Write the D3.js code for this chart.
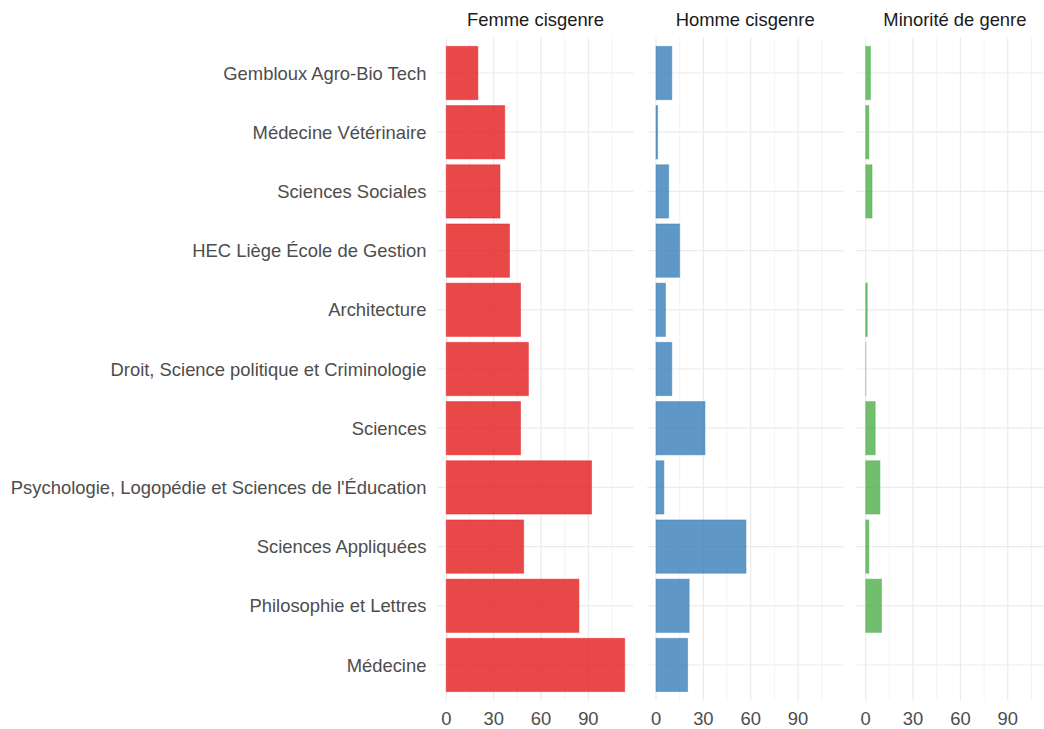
<!DOCTYPE html>
<html>
<head>
<meta charset="utf-8">
<script src="https://cdn.jsdelivr.net/npm/d3@7"></script>
<style>
  html, body { margin: 0; padding: 0; background: #ffffff; }
  svg { display: block; font-family: "Liberation Sans", Arial, sans-serif; }
</style>
</head>
<body>
<svg id="chart" width="1044" height="729"></svg>
<script>
// ---- Data ----
const categories = [
  "Gembloux Agro-Bio Tech",
  "Médecine Vétérinaire",
  "Sciences Sociales",
  "HEC Liège École de Gestion",
  "Architecture",
  "Droit, Science politique et Criminologie",
  "Sciences",
  "Psychologie, Logopédie et Sciences de l'Éducation",
  "Sciences Appliquées",
  "Philosophie et Lettres",
  "Médecine"
];
const panels = ["Femme cisgenre", "Homme cisgenre", "Minorité de genre"];
const femmeValues   = [20, 37, 34, 40, 47, 52, 47, 92, 49, 84, 113];
const hommeValues   = [10, 1, 8, 15, 6, 10, 31, 5, 57, 21, 20];
const minoriteValues = [3, 2, 4, null, 1, 0, 6, 9, 2, 10, null];
const majorTicks = [0, 30, 60, 90];
const minorTicks = [15, 45, 75, 105];
const panelColors = ["#E41A1C", "#377EB8", "#4DAF4A"];

const seriesValues = [femmeValues, hommeValues, minoriteValues];

// ---- Layout ----
const svg = d3.select("#chart");
const panelLeft = 437.4;
const panelWidth = 196.2;
const panelGap = 13.5;
const panelTop = 37.5;
const panelBottom = 700.5;
const fontSize = 18.4;

const maxVal = d3.max(seriesValues.flat().filter(v => v != null));
const expand = maxVal * 0.05;
const x = d3.scaleLinear().domain([-expand, maxVal + expand]).range([0, panelWidth]);
const y = d3.scalePoint().domain(categories).range([panelTop, panelBottom]).padding(0.6);
const step = y.step();
const barH = step * 0.9;

const gridColor = "#EBEBEB";
const textGrey = "#4D4D4D";

panels.forEach((name, pi) => {
  const ox = panelLeft + pi * (panelWidth + panelGap);
  const g = svg.append("g").attr("transform", `translate(${ox},0)`);

  // minor vertical grid
  g.selectAll("line.minor").data(minorTicks.filter(t => t <= x.domain()[1])).enter()
    .append("line")
    .attr("x1", d => x(d)).attr("x2", d => x(d))
    .attr("y1", panelTop).attr("y2", panelBottom)
    .attr("stroke", gridColor).attr("stroke-width", 0.6);
  // major vertical grid
  g.selectAll("line.major").data(majorTicks).enter()
    .append("line")
    .attr("x1", d => x(d)).attr("x2", d => x(d))
    .attr("y1", panelTop).attr("y2", panelBottom)
    .attr("stroke", gridColor).attr("stroke-width", 1.2);
  // horizontal grid
  g.selectAll("line.hgrid").data(categories).enter()
    .append("line")
    .attr("x1", 0).attr("x2", panelWidth)
    .attr("y1", d => y(d)).attr("y2", d => y(d))
    .attr("stroke", gridColor).attr("stroke-width", 1.2);

  // bars
  const vals = seriesValues[pi];
  const data = categories.map((c, i) => ({ c, v: vals[i] })).filter(d => d.v != null);
  g.selectAll("rect.bar").data(data).enter()
    .append("rect")
    .attr("x", x(0))
    .attr("y", d => y(d.c) - barH / 2)
    .attr("width", d => Math.max(x(d.v) - x(0), 0.05))
    .attr("height", barH)
    .attr("fill", panelColors[pi])
    .attr("fill-opacity", 0.8)
    .attr("stroke", panelColors[pi])
    .attr("stroke-opacity", 0.45)
    .attr("stroke-width", 1);

  // x tick labels
  g.selectAll("text.tick").data(majorTicks).enter()
    .append("text")
    .attr("x", d => x(d))
    .attr("y", 725)
    .attr("text-anchor", "middle")
    .attr("font-size", fontSize)
    .attr("fill", textGrey)
    .text(d => d);

  // strip label
  g.append("text")
    .attr("x", panelWidth / 2)
    .attr("y", 26)
    .attr("text-anchor", "middle")
    .attr("font-size", fontSize)
    .attr("fill", "#1A1A1A")
    .text(name);
});

// y category labels
svg.selectAll("text.cat").data(categories).enter()
  .append("text")
  .attr("x", panelLeft - 11)
  .attr("y", d => y(d))
  .attr("dy", "0.36em")
  .attr("text-anchor", "end")
  .attr("font-size", fontSize)
  .attr("fill", textGrey)
  .text(d => d);
</script>
</body>
</html>
